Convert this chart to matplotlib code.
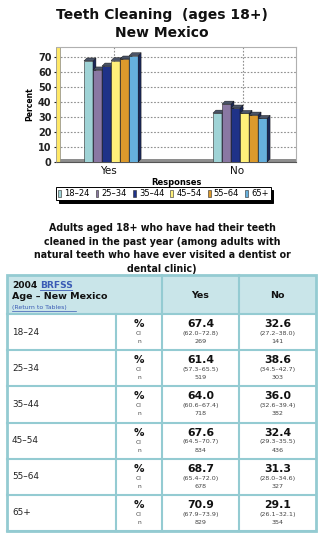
import numpy as np
import matplotlib
matplotlib.use("Agg")
import matplotlib.pyplot as plt
from matplotlib.patches import Rectangle, Polygon

plt.rcParams['font.family'] = ['DejaVu Sans']

# data
responses = ['Yes', 'No']
ages = ['18–24', '25–34', '35–44', '45–54', '55–64', '65+']
yes_pct = [67.4, 61.4, 64.0, 67.6, 68.7, 70.9]
no_pct = [32.6, 38.6, 36.0, 32.4, 31.3, 29.1]
yes_ci = ['62.0–72.8', '57.3–65.5', '60.6–67.4', '64.5–70.7', '65.4–72.0', '67.9–73.9']
no_ci = ['27.2–38.0', '34.5–42.7', '32.6–39.4', '29.3–35.5', '28.0–34.6', '26.1–32.1']
yes_n = [269, 519, 718, 834, 678, 829]
no_n = [141, 303, 382, 436, 327, 354]

colors = ['#9fd3d6', '#8a78a3', '#1f3288', '#fff07a', '#dc9a2c', '#66b0dd']
side_col = '#1b2858'
top_col = '#4a5468'

W, H = 325, 540
fig = plt.figure(figsize=(W / 100, H / 100), dpi=100)

# background layer in pixel units for the texts and the table
bg = fig.add_axes([0, 0, 1, 1])
bg.set_xlim(0, W)
bg.set_ylim(H, 0)
bg.axis('off')

bg.text(162, 15, 'Teeth Cleaning  (ages 18+)', ha='center', va='center',
        fontsize=10, fontweight='bold', color='#111111')
bg.text(162, 33, 'New Mexico', ha='center', va='center',
        fontsize=10, fontweight='bold', color='#111111')

# ---- bar chart ----
ax = fig.add_axes([57 / W, 1 - 162 / H, 239 / W, 115 / H])
ymax = 76.7
ax.set_ylim(0, ymax)
ax.set_xlim(-0.419, 1.434)
bw = 0.07
dx, dy = 0.023, 2.0

for y in range(10, 80, 10):
    ax.axhline(y, color='#8f8f8f', lw=0.8, ls=(0, (1.5, 1.5)), zorder=0)
for xc in range(len(responses)):
    ax.axvline(xc + 0.02, color='#8f8f8f', lw=0.8, ls=(0, (1.5, 1.5)), zorder=0)

series = np.array([yes_pct, no_pct])  # rows: responses, cols: age groups
handles = []
for g in range(len(responses)):
    for i in range(len(ages)):
        x0 = g + (i - 2.5) * bw - bw / 2
        h = series[g, i]
        z = 3 + i
        b = ax.bar(x0, h, width=bw, align='edge', color=colors[i],
                   edgecolor='#2a2a2a', lw=0.4, zorder=z)
        ax.add_patch(Polygon([(x0 + bw, 0), (x0 + bw + dx, dy), (x0 + bw + dx, h + dy),
                              (x0 + bw, h)], closed=True, fc=side_col, ec='#111111',
                             lw=0.3, zorder=z))
        ax.add_patch(Polygon([(x0, h), (x0 + dx, h + dy), (x0 + bw + dx, h + dy),
                              (x0 + bw, h)], closed=True, fc=top_col, ec='#111111',
                             lw=0.3, zorder=z))
        if g == 0:
            handles.append(b)

# floor and left wall
ax.add_patch(Rectangle((0, 0), 1, 0.025, transform=ax.transAxes, fc='#8e8e8e',
                       ec='none', zorder=2, clip_on=False))
ax.add_patch(Rectangle((-0.004, 0), 0.018, 1, transform=ax.transAxes, fc='#ffe866',
                       ec='#888888', lw=0.5, zorder=2, clip_on=False))

for s in ['top', 'right']:
    ax.spines[s].set_color('#b0b0b0')
    ax.spines[s].set_linewidth(0.8)
ax.spines['left'].set_visible(False)
ax.spines['bottom'].set_color('#555555')

ax.set_yticks(range(0, 80, 10))
ax.set_xticks([0 - 0.02, 1 - 0.02])
ax.set_xticklabels(responses)
ax.tick_params(axis='y', length=2, labelsize=7, pad=2, colors='#222222')
ax.tick_params(axis='x', length=0, labelsize=7.5, pad=3, colors='#111111')
for lab in ax.get_yticklabels():
    lab.set_fontweight('bold')
ax.set_ylabel('Percent', fontsize=5.5, fontweight='bold', labelpad=3)
ax.set_xlabel('Responses', fontsize=6, fontweight='bold', labelpad=1)

leg = fig.legend(handles, ages, loc='upper left', bbox_to_anchor=(56 / W, 1 - 187 / H),
                 ncol=6, fontsize=6, frameon=True, fancybox=False, edgecolor='black',
                 handlelength=0.35, handleheight=1.0, handletextpad=0.35,
                 columnspacing=0.75, borderpad=0.25, borderaxespad=0,
                 shadow={'color': 'black', 'alpha': 1})
leg.get_frame().set_linewidth(0.7)

# ---- heading ----
heading = ['Adults aged 18+ who have had their teeth',
           'cleaned in the past year (among adults with',
           'natural teeth who have ever visited a dentist or',
           'dental clinic)']
for k, line in enumerate(heading):
    bg.text(162, 228 + k * 13.6, line, ha='center', va='center', fontsize=6.85,
            fontweight='bold', color='#111111')

# ---- table ----
border = '#94cbd2'
cols = [7, 116, 162, 239, 316]
top, head_bot = 275, 314
row_h = (531 - head_bot) / len(ages)

bg.add_patch(Rectangle((cols[0], top), cols[-1] - cols[0], head_bot - top,
                       fc='#c9e5e9', ec='none'))
bg.add_patch(Rectangle((cols[0], top), cols[-1] - cols[0], 531 - top,
                       fc='none', ec=border, lw=2.0))
for xc in [cols[2], cols[3]]:
    bg.plot([xc, xc], [top, 531], color=border, lw=1.5)
bg.plot([cols[1], cols[1]], [head_bot, 531], color=border, lw=1.5)
for r in range(len(ages) + 1):
    yy = head_bot + r * row_h
    bg.plot([cols[0], cols[-1]], [yy, yy], color=border, lw=1.5)

bg.text(12, 285, '2004', ha='left', va='center', fontsize=6.6, fontweight='bold',
        color='#111111')
bg.text(40, 285, 'BRFSS', ha='left', va='center', fontsize=6.6, fontweight='bold',
        color='#3a5bb5')
bg.plot([40, 72], [289.5, 289.5], color='#3a5bb5', lw=0.6)
bg.text(12, 296.5, 'Age – New Mexico', ha='left', va='center', fontsize=6.8,
        fontweight='bold', color='#111111')
bg.text(12, 307, '(Return to Tables)', ha='left', va='center', fontsize=4.4,
        color='#3a5bb5')
bg.plot([12, 76], [310.5, 310.5], color='#3a5bb5', lw=0.5)
bg.text((cols[2] + cols[3]) / 2, 295, 'Yes', ha='center', va='center', fontsize=6.8,
        fontweight='bold', color='#111111')
bg.text((cols[3] + cols[4]) / 2, 295, 'No', ha='center', va='center', fontsize=6.8,
        fontweight='bold', color='#111111')

cx_yes = (cols[2] + cols[3]) / 2
cx_no = (cols[3] + cols[4]) / 2
cx_lab = (cols[1] + cols[2]) / 2
for r, age in enumerate(ages):
    y0 = head_bot + r * row_h
    bg.text(12, y0 + row_h / 2, age, ha='left', va='center', fontsize=6.4,
            color='#222222')
    bg.text(cx_lab, y0 + 10, '%', ha='center', va='center', fontsize=7.5,
            fontweight='bold', color='#111111')
    bg.text(cx_lab, y0 + 19.5, 'CI', ha='center', va='center', fontsize=4.3,
            color='#444444')
    bg.text(cx_lab, y0 + 27.5, 'n', ha='center', va='center', fontsize=4.3,
            color='#444444')
    for cx, pct, ci, n in [(cx_yes, yes_pct[r], yes_ci[r], yes_n[r]),
                           (cx_no, no_pct[r], no_ci[r], no_n[r])]:
        bg.text(cx, y0 + 10, f'{pct:.1f}', ha='center', va='center', fontsize=7.8,
                fontweight='bold', color='#111111')
        bg.text(cx, y0 + 19.5, f'({ci})', ha='center', va='center', fontsize=4.6,
                color='#444444')
        bg.text(cx, y0 + 27.5, str(n), ha='center', va='center', fontsize=4.6,
                color='#444444')

fig.savefig('out.png', dpi=100)
